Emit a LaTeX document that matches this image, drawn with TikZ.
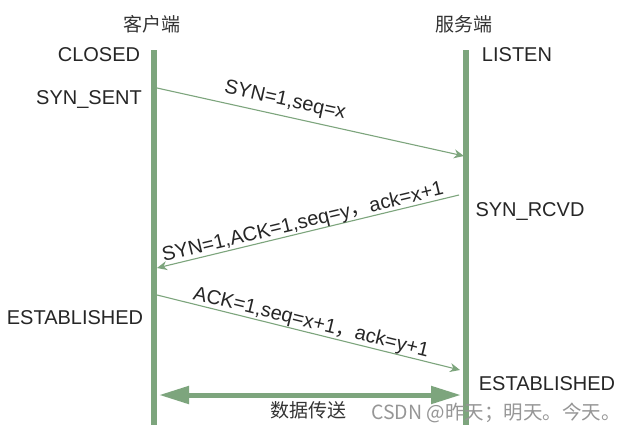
\documentclass[tikz,border=0pt]{standalone}
\usepackage{fontspec}
\setmainfont{Liberation Sans}
\newfontfamily\cjk{Noto Sans CJK SC}
\usetikzlibrary{arrows.meta}
\definecolor{lg}{RGB}{125,165,125}
\definecolor{wm}{RGB}{150,150,150}
\begin{document}
\begin{tikzpicture}[x=1pt,y=-1pt,
  lbl/.style={font=\fontsize{20}{24}\selectfont, inner sep=0pt, text=black!85},
  cj/.style={font=\cjk\fontsize{19}{23}\selectfont, inner sep=0pt, text=black!80},
  life/.style={draw=lg, line width=5.5pt},
  msg/.style={draw=lg, line width=1.1pt, -{Stealth[length=10pt,width=9pt]}},
  big/.style={draw=lg, line width=5pt, {Triangle[length=30pt,width=17pt]}-{Triangle[length=30pt,width=17pt]}}]
\useasboundingbox (0,0) rectangle (627,432);
\fill[white] (0,0) rectangle (627,432);
% lifelines
\coordinate (ltop) at (154,50);
\coordinate (lbot) at (154,425);
\coordinate (rtop) at (466,50);
\coordinate (rbot) at (466,425);
\draw[life] (ltop) -- (lbot);
\draw[life] (rtop) -- (rbot);
% headers
\node[cj] (client) at (152,24) {客户端};
\node[cj] (server) at (464,24) {服务端};
% states
\node[lbl] (closed) at (99,55) {CLOSED};
\node[lbl] (listen) at (517,55) {LISTEN};
\node[lbl] (synsent) at (89,100) {SYN\_SENT};
\node[lbl] (synrcvd) at (530,211) {SYN\_RCVD};
\node[lbl] (estc) at (75,318) {ESTABLISHED};
\node[lbl] (ests) at (547,384) {ESTABLISHED};
% messages
\coordinate (m1a) at (157,88);
\coordinate (m1b) at (464,156);
\draw[msg] (m1a) -- (m1b);
\node[lbl, rotate=-12.5] (l1) at (285,101) {SYN=1,seq=x};
\coordinate (m2a) at (459,195);
\coordinate (m2b) at (157,268);
\draw[msg] (m2a) -- (m2b);
\node[lbl, rotate=13.5] (l2) at (303,223) {SYN=1,ACK=1,seq=y{\cjk ，}ack=x+1};
\coordinate (m3a) at (157,295);
\coordinate (m3b) at (460,370);
\draw[msg] (m3a) -- (m3b);
\node[lbl, rotate=-13.8] (l3) at (311,323) {ACK=1,seq=x+1{\cjk ，}ack=y+1};
% data transfer
\coordinate (da) at (159,395);
\coordinate (db) at (461,395);
\draw[big] (da) -- (db);
\node[cj] (data) at (308,410) {数据传送};
% watermark
\node[font=\cjk\fontsize{19.5}{22}\selectfont, text=wm, inner sep=0pt] (wmk) at (496,413) {CSDN @昨天；明天。今天。};
\end{tikzpicture}
\end{document}
